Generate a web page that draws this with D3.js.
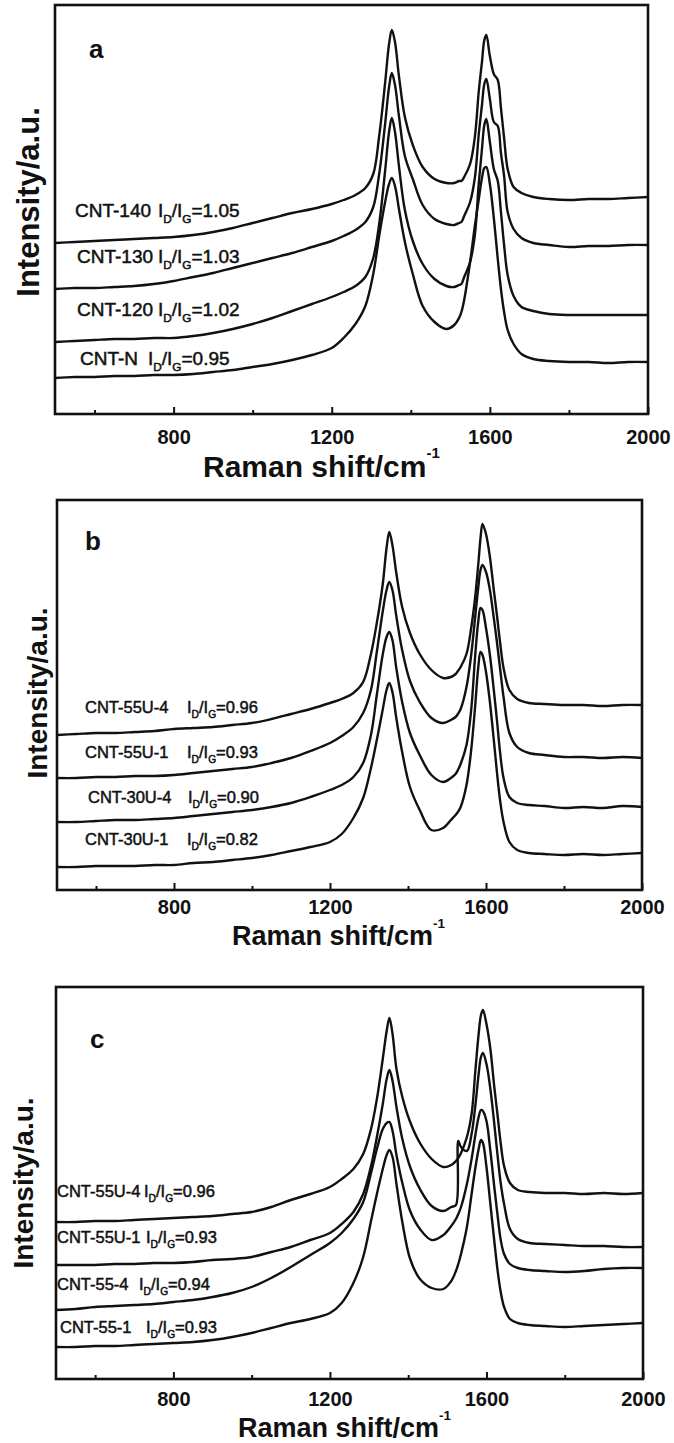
<!DOCTYPE html>
<html><head><meta charset="utf-8">
<script src="https://cdn.jsdelivr.net/npm/d3@7"></script>
<style>
body{margin:0;background:#fff}
svg{display:block}
text{font-family:"Liberation Sans",Arial,Helvetica,sans-serif;fill:#111}
</style>
</head><body>
<svg id="chart" width="674" height="1443"></svg>
<script>
// ---------- DATA ----------
const waveNumbers = [500,550,600,650,700,750,800,850,900,950,1000,1050,1100,1150,1200,
  1230,1260,1285,1305,1320,1335,1345,1352,1360,1370,
  1385,1405,1430,1460,1490,1510,1522,1528,1535,1550,
  1562,1572,1580,1586,1591,1600,1610,1620,1628,1636,
  1645,1660,1680,1710,1750,1800,1850,1900,1950,2000];

const xTicksMajor = [800,1200,1600,2000];
const xTicksMinor = [600,1000,1400,1800];

// panel a
const samplesA = ["CNT-140","CNT-130","CNT-120","CNT-N"];
const ratiosA = ["1.05","1.03","1.02","0.95"];
const cnt140 = [171,172,173,174,175,176,177,179,182,186,191,196,201,205,210,
  214,219,226,240,278,331,370,384,372,338,
  297,269,247,235,231,231,233,233,237,250,
  277,323,352,374,379,358,340,334,306,276,
  245,227,221,217,215,214,215,215,216,217];
const cnt130 = [125,126,126,127,128,130,133,137,141,146,151,156,161,167,173,
  178,184,192,207,240,290,327,341,329,298,
  258,235,209,195,190,189,191,192,198,212,
  236,280,309,330,335,315,292,288,261,238,
  202,185,176,171,169,167,168,168,169,169];
const cnt120 = [72,73,74,75,75,76,76,78,81,85,90,96,103,110,117,
  122,128,137,156,190,243,282,296,282,248,
  204,173,150,135,128,127,129,130,137,152,
  179,231,265,289,295,272,245,233,202,169,
  139,118,107,103,100,99,99,99,99,99];
const cntN = [36,37,37,38,38,39,39,40,42,44,47,50,54,59,66,
  76,90,108,140,178,212,230,236,228,205,
  172,140,108,92,85,89,96,102,114,152,
  188,215,236,246,247,230,196,155,125,102,
  84,70,60,55,53,52,52,51,52,52];

// panel b
const samplesB = ["CNT-55U-4","CNT-55U-1","CNT-30U-4","CNT-30U-1"];
const ratiosB = ["0.96","0.93","0.90","0.82"];
const cnt55U4b = [155,156,157,157,158,159,161,162,163,165,167,171,176,181,187,
  191,197,208,236,267,305,342,358,345,317,
  283,257,236,220,212,213,216,219,223,236,
  262,292,325,352,366,356,333,300,275,248,
  222,200,191,187,186,185,185,184,185,185];
const cnt55U1b = [112,112,113,113,114,114,115,117,119,121,123,127,132,139,147,
  154,163,177,200,238,278,300,308,300,274,
  240,209,188,172,167,170,173,176,181,203,
  235,272,302,320,325,318,300,272,248,222,
  193,157,143,137,135,133,133,132,133,132];
const cnt30U4 = [68,68,69,70,70,71,72,74,76,78,80,83,87,93,100,
  105,113,127,155,195,235,253,258,250,222,
  188,157,135,115,108,112,116,120,126,145,
  180,233,268,282,280,262,235,200,170,138,
  112,93,87,85,84,82,83,82,84,83];
const cnt30U1 = [23,23,24,24,24,25,25,27,28,30,32,35,39,43,48,
  56,72,92,122,150,180,200,207,198,172,
  138,103,80,60,62,70,75,78,83,105,
  140,183,222,238,235,218,188,150,118,90,
  68,48,40,37,36,35,36,35,36,37];

// panel c
const samplesC = ["CNT-55U-4","CNT-55U-1","CNT-55-4","CNT-55-1"];
const ratiosC = ["0.96","0.93","0.94","0.93"];
const cnt55U4c = [157,157,158,158,159,160,161,162,163,165,167,172,179,185,192,
  200,210,225,250,280,320,348,361,345,310,
  282,257,236,220,212,214,218,221,226,242,
  265,310,345,364,369,355,330,292,265,237,
  213,196,189,187,186,186,185,186,185,186];
const cnt55U1c = [114,114,114,115,115,116,116,117,119,120,122,127,132,139,146,
  155,167,185,213,242,275,300,309,298,272,
  240,212,190,173,168,172,174,238,232,228,
  245,275,305,322,326,315,290,255,225,197,
  175,150,140,136,135,134,133,133,132,132];
const cnt554 = [69,70,72,73,74,75,77,79,82,86,92,101,112,124,136,
  146,160,177,206,230,250,256,257,248,224,
  196,168,150,139,144,153,160,165,172,195,
  220,245,262,269,268,258,228,192,165,140,
  125,115,111,109,108,107,108,110,111,111];
const cnt551 = [32,32,33,33,34,35,36,37,39,42,46,51,56,60,66,
  76,96,122,158,185,210,224,229,222,195,
  157,120,100,91,90,98,108,115,125,152,
  185,212,230,239,236,212,175,138,110,88,
  72,60,56,54,53,52,53,54,55,56];

const xTitle = "Raman shift/cm";
const yTitle = "Intensity/a.u.";

// ---------- LAYOUT ----------
const panels = [
  {letter:"a", series:[cnt140,cnt130,cnt120,cntN], names:samplesA, ratios:ratiosA,
   box:{l:55,r:648,t:5,b:414}, tickPad:16, xt:{x:203,y:477,fs:30}, yt:{x:28,y:202,fs:31},
   lt:{x:89,y:58}, lab:{fs:19, nx:[75,77,77,80], rx:[158,158,158,148], y:[217,263,316,365]}},
  {letter:"b", series:[cnt55U4b,cnt55U1b,cnt30U4,cnt30U1], names:samplesB, ratios:ratiosB,
   box:{l:57,r:642,t:500,b:890}, tickPad:10, xt:{x:232,y:945,fs:27}, yt:{x:37,y:693,fs:28},
   lt:{x:85,y:550}, lab:{fs:16.5, nx:[85,85,88,85], rx:[187,187,188,187], y:[713,758,803,845]}},
  {letter:"c", series:[cnt55U4c,cnt55U1c,cnt554,cnt551], names:samplesC, ratios:ratiosC,
   box:{l:56,r:643,t:987,b:1379}, tickPad:13, xt:{x:238,y:1437,fs:27}, yt:{x:23,y:1183,fs:28},
   lt:{x:90,y:1048}, lab:{fs:16.5, nx:[57,57,57,60], rx:[144,146,139,146], y:[1197,1243,1290,1333]}}
];

const svg = d3.select("#chart");

panels.forEach(p => {
  const g = svg.append("g");
  const x = d3.scaleLinear().domain([500,2000]).range([p.box.l,p.box.r]);
  const y = d3.scaleLinear().domain([0,p.box.b-p.box.t]).range([p.box.b,p.box.t]);

  const line = d3.line()
    .x((d,i)=>x(waveNumbers[i]))
    .y(d=>y(d))
    .curve(d3.curveCatmullRom.alpha(0.5));

  p.series.forEach(s => {
    g.append("path").attr("d", line(s))
      .attr("fill","none").attr("stroke","#111")
      .attr("stroke-width",2.4).attr("stroke-linejoin","round");
  });

  // axes (ticks inward)
  const major = g.append("g").attr("transform",`translate(0,${p.box.b})`)
    .call(d3.axisBottom(x).tickValues(xTicksMajor).tickSizeInner(-7).tickSizeOuter(0).tickPadding(p.tickPad).tickFormat(d3.format("d")));
  const minor = g.append("g").attr("transform",`translate(0,${p.box.b})`)
    .call(d3.axisBottom(x).tickValues(xTicksMinor).tickSizeInner(-4).tickSizeOuter(0).tickFormat(""));
  [major,minor].forEach(a=>{
    a.select(".domain").remove();
    a.selectAll("line").attr("stroke","#111").attr("stroke-width",2);
  });
  major.selectAll("text").attr("font-size",20).attr("font-weight","bold")
    .attr("font-family",'"Liberation Sans",Arial,sans-serif').attr("fill","#111");

  // frame
  g.append("rect").attr("x",p.box.l).attr("y",p.box.t)
    .attr("width",p.box.r-p.box.l).attr("height",p.box.b-p.box.t)
    .attr("fill","none").attr("stroke","#111").attr("stroke-width",2.6);

  // panel letter
  g.append("text").attr("x",p.lt.x).attr("y",p.lt.y).text(p.letter)
    .attr("font-size",26).attr("font-weight","bold");

  // x title
  const xt = g.append("text").attr("x",p.xt.x).attr("y",p.xt.y)
    .attr("font-size",p.xt.fs).attr("font-weight","bold");
  xt.append("tspan").text(xTitle);
  xt.append("tspan").text("-1").attr("font-size",p.xt.fs*0.5).attr("dy",-p.xt.fs*0.62);

  // y title
  g.append("text").attr("transform",`translate(${p.yt.x},${p.yt.y}) rotate(-90)`)
    .attr("text-anchor","middle").attr("dy","0.36em")
    .attr("font-size",p.yt.fs).attr("font-weight","bold").text(yTitle);

  // curve labels
  p.names.forEach((nm,i)=>{
    const fs = p.lab.fs, sub = fs*0.62, sh = fs*0.3;
    g.append("text").attr("x",p.lab.nx[i]).attr("y",p.lab.y[i])
      .attr("font-size",fs).attr("stroke","#111").attr("stroke-width",0.5).text(nm);
    const t = g.append("text").attr("x",p.lab.rx[i]).attr("y",p.lab.y[i])
      .attr("font-size",fs).attr("stroke","#111").attr("stroke-width",0.5);
    t.append("tspan").text("I");
    t.append("tspan").text("D").attr("font-size",sub).attr("dy",sh);
    t.append("tspan").text("/I").attr("dy",-sh);
    t.append("tspan").text("G").attr("font-size",sub).attr("dy",sh);
    t.append("tspan").text("=" + p.ratios[i]).attr("dy",-sh);
  });
});
</script>
</body></html>
